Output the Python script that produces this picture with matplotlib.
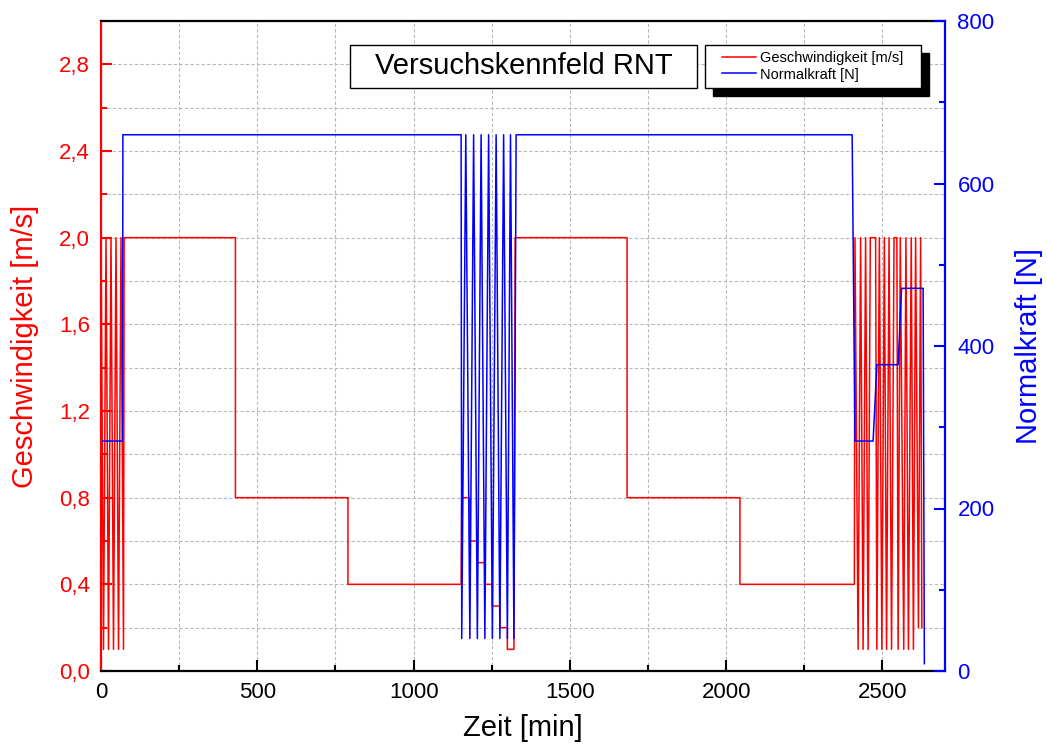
import matplotlib
matplotlib.use('agg')
import matplotlib.pyplot as plt
from matplotlib.patches import Rectangle
from matplotlib.ticker import MultipleLocator, FuncFormatter

plt.rcParams['font.family'] = ['Liberation Sans', 'DejaVu Sans']

# Geschwindigkeit [m/s] (linke Achse)
speed_t = [0, 8, 16, 24, 32, 40, 48, 56, 64, 72, 74,
           430, 430, 790, 790, 1152,
           1154, 1180, 1180, 1204, 1204, 1228, 1228, 1252, 1252, 1276, 1276, 1300, 1300, 1321, 1325,
           1683, 1683, 2044, 2044, 2410,
           2412, 2422, 2430, 2438, 2446, 2454, 2461, 2478, 2482, 2490, 2498, 2506, 2513, 2521,
           2529, 2537, 2546, 2550, 2557, 2568, 2575, 2583, 2592, 2599, 2606, 2615, 2622, 2626]
speed_v = [2.0, 0.1, 2.0, 0.1, 2.0, 0.1, 2.0, 0.1, 2.0, 0.1, 2.0,
           2.0, 0.8, 0.8, 0.4, 0.4,
           0.8, 0.8, 0.6, 0.6, 0.5, 0.5, 0.4, 0.4, 0.3, 0.3, 0.2, 0.2, 0.1, 0.1, 2.0,
           2.0, 0.8, 0.8, 0.4, 0.4,
           2.0, 0.1, 2.0, 0.1, 2.0, 0.1, 2.0, 2.0, 0.1, 2.0, 0.1, 2.0, 0.1, 2.0,
           0.1, 2.0, 2.0, 0.1, 2.0, 0.1, 2.0, 0.1, 2.0, 0.1, 2.0, 0.2, 2.0, 0.2]

# Normalkraft [N] (rechte Achse)
force_t = [5, 69, 70, 1152,
           1154, 1167, 1180, 1192, 1204, 1216, 1228, 1240, 1252, 1264, 1276, 1288, 1300, 1310, 1321, 1328,
           2403, 2412, 2470, 2482, 2550, 2561, 2630, 2634]
force_v = [283, 283, 660, 660,
           40, 660, 40, 660, 40, 660, 40, 660, 40, 660, 40, 660, 40, 660, 40, 660,
           660, 283, 283, 377, 377, 471, 471, 9]

titel = "Versuchskennfeld RNT"
label_speed = "Geschwindigkeit [m/s]"
label_force = "Normalkraft [N]"
label_zeit = "Zeit [min]"

RED = '#ff0000'
BLUE = '#0000ff'

fig = plt.figure(figsize=(10.47, 7.56), dpi=100)
ax = fig.add_axes([101/1047, 85/756, 844/1047, 650/756])
ax2 = ax.twinx()

l1, = ax.plot(speed_t, speed_v, color=RED, lw=1.1, label=label_speed)
l2, = ax2.plot(force_t, force_v, color=BLUE, lw=1.1, label=label_force)

ax.set_xlim(0, 2700)
ax.set_ylim(0, 3.0)
ax2.set_ylim(0, 800)

ax.xaxis.set_major_locator(MultipleLocator(500))
ax.xaxis.set_minor_locator(MultipleLocator(250))
ax.yaxis.set_major_locator(MultipleLocator(0.4))
ax.yaxis.set_minor_locator(MultipleLocator(0.2))
ax.yaxis.set_major_formatter(FuncFormatter(lambda v, p: f"{v:.1f}".replace('.', ',')))
ax2.yaxis.set_major_locator(MultipleLocator(200))
ax2.yaxis.set_minor_locator(MultipleLocator(100))

# Gitter
gs = dict(color='#b8b8b8', lw=0.8, linestyle=(0, (3, 2)))
ax.grid(True, which='both', axis='both', **gs)
ax.set_axisbelow(True)

# Achsen / Spines
for s in ax.spines.values():
    s.set_linewidth(1.6)
for s in ax2.spines.values():
    s.set_linewidth(1.6)
ax.spines['left'].set_color(RED)
ax.spines['right'].set_visible(False)
ax.spines['top'].set_color('black')
ax.spines['bottom'].set_color('black')
ax2.spines['left'].set_visible(False)
ax2.spines['top'].set_visible(False)
ax2.spines['bottom'].set_visible(False)
ax2.spines['right'].set_color(BLUE)

ax.tick_params(axis='x', which='both', direction='in', colors='black', width=1.5,
               labelsize=16, pad=8, top=False)
ax.tick_params(axis='x', which='major', length=8)
ax.tick_params(axis='x', which='minor', length=4.5)
ax.tick_params(axis='y', which='both', direction='in', colors=RED, width=1.5,
               labelsize=16, pad=8, right=False)
ax.tick_params(axis='y', which='major', length=8)
ax.tick_params(axis='y', which='minor', length=4.5)
ax2.tick_params(axis='y', which='both', direction='in', colors=BLUE, width=1.5,
                labelsize=16, pad=9)
ax2.tick_params(axis='y', which='major', length=8)
ax2.tick_params(axis='y', which='minor', length=4.5)

ax.set_xlabel(label_zeit, fontsize=21, labelpad=8)
ax.set_ylabel(label_speed, fontsize=21, color=RED, labelpad=14)
ax2.set_ylabel(label_force, fontsize=21, color=BLUE, labelpad=15)

# Titelbox
tb = Rectangle((0.295, 0.897), 0.411, 0.066, transform=ax2.transAxes,
               facecolor='white', edgecolor='black', lw=1.0, zorder=5)
ax2.add_patch(tb)
ax2.text(0.5007, 0.931, titel, transform=ax2.transAxes, ha='center', va='center',
         fontsize=21, zorder=6)

# Legende mit Schatten
lx, ly, lw_, lh = 0.7156, 0.897, 0.256, 0.066
sh = Rectangle((lx + 0.0095, ly - 0.0125), lw_, lh, transform=ax2.transAxes,
               facecolor='black', edgecolor='black', lw=1.0, zorder=5)
lb = Rectangle((lx, ly), lw_, lh, transform=ax2.transAxes,
               facecolor='white', edgecolor='black', lw=1.0, zorder=6)
ax2.add_patch(sh)
ax2.add_patch(lb)
leg = ax2.legend(handles=[l1, l2], loc='center', bbox_to_anchor=(lx, ly, lw_, lh),
                 bbox_transform=ax2.transAxes, frameon=False, fontsize=10.5,
                 handlelength=2.3, handletextpad=0.3, labelspacing=0.15, borderpad=0.2)
leg.set_zorder(7)

fig.savefig('out.png', dpi=100)
